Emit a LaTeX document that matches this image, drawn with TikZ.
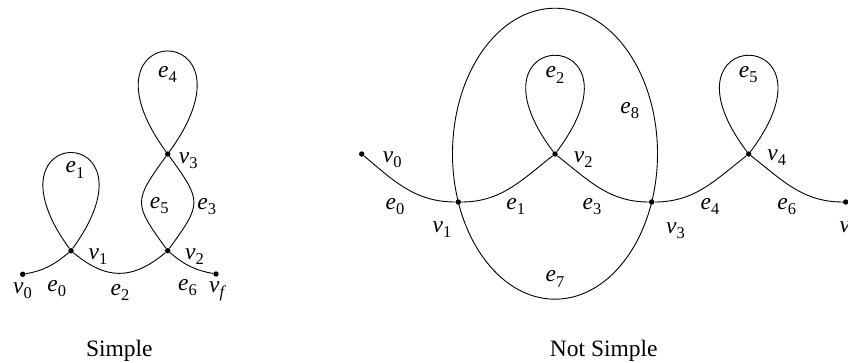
\documentclass[tikz,border=0pt]{standalone}
\usepackage{fontspec}
\setmainfont{Liberation Serif}
\newcommand\lab[2]{\textit{#1}\raisebox{-0.22em}{\fontsize{16.5}{18}\selectfont #2}}
\begin{document}
\begin{tikzpicture}[x=1pt,y=1pt,
  vtx/.style={circle,fill=black,inner sep=0pt,minimum size=5.4pt},
  lbl/.style={inner sep=0pt,font=\fontsize{23.5}{28}\selectfont},
  edge/.style={line width=0.9pt},
  looplink/.style={edge,distance=#1}]
\useasboundingbox (0,0) rectangle (848,362);

% ---------- Simple ----------
\node[vtx] (a0) at (22.7,87.7) {};
\node[vtx] (a1) at (71,111.3) {};
\node[vtx] (a2) at (167.7,111.3) {};
\node[vtx] (a3) at (167.7,208) {};
\node[vtx] (af) at (216,88) {};

\draw[edge] (a0) to[out=10,in=220] (a1);
\draw[edge] (a1) to[out=-40,in=220,looseness=1.2] (a2);
\draw[edge] (a2) to[out=-40,in=170] (af);
\draw[looplink=158] (a1) to[out=54,in=126] (a1);
\draw[looplink=166] (a3) to[out=54,in=126] (a3);
\draw[looplink=55.6] (a2) to[out=54,in=-54] (a3);
\draw[looplink=55.6] (a2) to[out=126,in=234] (a3);

\node[lbl] (la0) at (22.5,71.2) {\lab{v}{0}};
\node[lbl] (lae0) at (56.7,73.7) {\lab{e}{0}};
\node[lbl] (la1) at (98,105) {\lab{v}{1}};
\node[lbl] (lae2) at (120,69.2) {\lab{e}{2}};
\node[lbl] (la2) at (194.5,105.7) {\lab{v}{2}};
\node[lbl] (lae6) at (187.5,74.5) {\lab{e}{6}};
\node[lbl] (laf) at (216.7,70.3) {\lab{v}{\itshape f}};
\node[lbl] (lae1) at (75,192) {\lab{e}{1}};
\node[lbl] (lae4) at (167.5,287.8) {\lab{e}{4}};
\node[lbl] (la3) at (188.3,201.2) {\lab{v}{3}};
\node[lbl] (lae5) at (159.2,156.5) {\lab{e}{5}};
\node[lbl] (lae3) at (206.7,155.7) {\lab{e}{3}};
\node[lbl,anchor=base] (capA) at (119.3,6) {Simple};

% ---------- Not Simple ----------
\coordinate (ec) at (555,208.3);
\draw[edge] (ec) ellipse [x radius=102.5, y radius=145.5];

\node[vtx] (b0) at (361.7,208) {};
\node[vtx] (b1) at (458.3,160) {};
\node[vtx] (b2) at (555,208) {};
\node[vtx] (b3) at (651.7,160) {};
\node[vtx] (b4) at (748.7,208) {};
\node[vtx] (bf) at (845.7,160) {};

\draw[edge] (b0) to[out=-40,in=180] (b1);
\draw[edge] (b1) to[out=0,in=218] (b2);
\draw[edge] (b2) to[out=-38,in=180] (b3);
\draw[edge] (b3) to[out=0,in=218] (b4);
\draw[edge] (b4) to[out=-38,in=180] (bf);
\draw[looplink=161] (b2) to[out=53,in=127] (b2);
\draw[looplink=161] (b4) to[out=53,in=127] (b4);

\node[lbl] (lb0) at (392.2,202) {\lab{v}{0}};
\node[lbl] (lbe0) at (395,155.3) {\lab{e}{0}};
\node[lbl] (lb1) at (442,132) {\lab{v}{1}};
\node[lbl] (lbe1) at (515.8,155.3) {\lab{e}{1}};
\node[lbl] (lb2) at (583.3,202) {\lab{v}{2}};
\node[lbl] (lbe2) at (555,287) {\lab{e}{2}};
\node[lbl] (lbe7) at (555,83) {\lab{e}{7}};
\node[lbl] (lbe8) at (629.7,251.7) {\lab{e}{8}};
\node[lbl] (lbe3) at (592,155.3) {\lab{e}{3}};
\node[lbl] (lb3) at (675.5,131.5) {\lab{v}{3}};
\node[lbl] (lbe4) at (710,155.8) {\lab{e}{4}};
\node[lbl] (lb4) at (776.7,204.8) {\lab{v}{4}};
\node[lbl] (lbe5) at (748.3,287.8) {\lab{e}{5}};
\node[lbl] (lbe6) at (786.7,155.3) {\lab{e}{6}};
\node[lbl] (lbf) at (847,131) {\lab{v}{\itshape f}};
\node[lbl,anchor=base] (capB) at (603.8,6) {Not Simple};
\end{tikzpicture}
\end{document}
